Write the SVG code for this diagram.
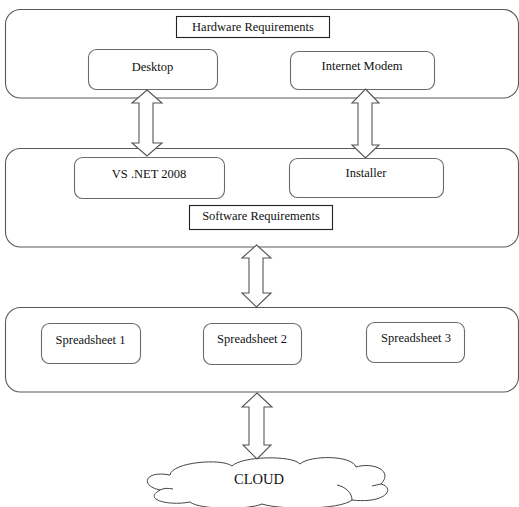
<svg xmlns="http://www.w3.org/2000/svg" width="519" height="507" viewBox="0 0 519 507">
<style>
.outer{fill:none;stroke:#5a5a5a;stroke-width:1.1}
.inner{fill:#fff;stroke:#6a6a6a;stroke-width:1.1}
.label{fill:#fff;stroke:#222;stroke-width:1.1}
.arrow{fill:#fff;stroke:#555;stroke-width:1.1;stroke-linejoin:miter}
.cloud{fill:#fff;stroke:#444;stroke-width:1}
.cl{fill:none;stroke:#444;stroke-width:1}
text{font-family:"Liberation Serif","Times New Roman",serif;font-size:12.5px;fill:#111;text-anchor:middle}
.big{font-size:14.5px}
</style>
<rect width="519" height="507" fill="#fff"/>
<g id="hardware-layer">
<rect class="outer" x="5.5" y="9.5" width="513" height="88.5" rx="15"/>
</g>
<g id="software-layer">
<rect class="outer" x="5.5" y="148.5" width="513" height="98.5" rx="15"/>
</g>
<g id="spreadsheet-layer">
<rect class="outer" x="5.5" y="307.5" width="513" height="84.5" rx="15"/>
</g>
<g id="hardware-requirements">
<rect class="label" x="176.5" y="16.5" width="153" height="21"/>
<text x="253" y="31">Hardware Requirements</text>
</g>
<g id="desktop">
<rect class="inner" x="88.5" y="49.5" width="129" height="40" rx="8"/>
<text x="152.5" y="71">Desktop</text>
</g>
<g id="internet-modem">
<rect class="inner" x="290.5" y="51.5" width="144" height="38" rx="8"/>
<text x="362" y="70">Internet Modem</text>
</g>
<g id="vs-net-2008">
<rect class="inner" x="74.5" y="157.5" width="150" height="41" rx="8"/>
<text x="149" y="178">VS .NET 2008</text>
</g>
<g id="installer">
<rect class="inner" x="289.5" y="158.5" width="154" height="39" rx="8"/>
<text x="366" y="177">Installer</text>
</g>
<g id="software-requirements">
<rect class="label" x="189.5" y="205.5" width="143" height="24"/>
<text x="261" y="220">Software Requirements</text>
</g>
<g id="spreadsheet-1">
<rect class="inner" x="41.5" y="323.5" width="99" height="40" rx="8"/>
<text x="90.5" y="344">Spreadsheet 1</text>
</g>
<g id="spreadsheet-2">
<rect class="inner" x="203.5" y="323.5" width="98" height="41" rx="8"/>
<text x="252" y="343">Spreadsheet 2</text>
</g>
<g id="spreadsheet-3">
<rect class="inner" x="366.5" y="322.5" width="98" height="40" rx="8"/>
<text x="416" y="342">Spreadsheet 3</text>
</g>
<g id="cloud">
<path class="cloud" d="M170,475 C172,462 222,458 232,466 C242,456 292,455 300,464 C310,455 352,455 356,467 C372,462 394,470 381,484 C396,488 386,504 352,500 C340,510 280,510 262,504 C248,510 200,510 190,502 C170,506 142,500 160,490 C140,486 144,470 170,475 Z"/>
<path class="cl" d="M337,485 C346,487 352,493 352,500"/>
<path class="cl" d="M160,490 C164,488 168,488 173,489"/>
<path class="cl" d="M381,484 C378,485 375,485 372,486"/>
<text class="big" x="259" y="484">CLOUD</text>
</g>
<g id="connectors">
<polygon class="arrow" points="147,90 162,103 153,103 153,143 162,143 147,156 132,143 139,143 139,103 132,103"/>
<polygon class="arrow" points="365.5,89 379,103 372,103 372,145 379,145 365.5,158 352,145 358,145 358,103 352,103"/>
<polygon class="arrow" points="256.5,245 271,258 263,258 263,293 271,293 256.5,307 242,293 249,293 249,258 242,258"/>
<polygon class="arrow" points="257,393 272,407 264,407 264,445 271,445 257,459 243,445 249,445 249,407 242,407"/>
</g>
</svg>
